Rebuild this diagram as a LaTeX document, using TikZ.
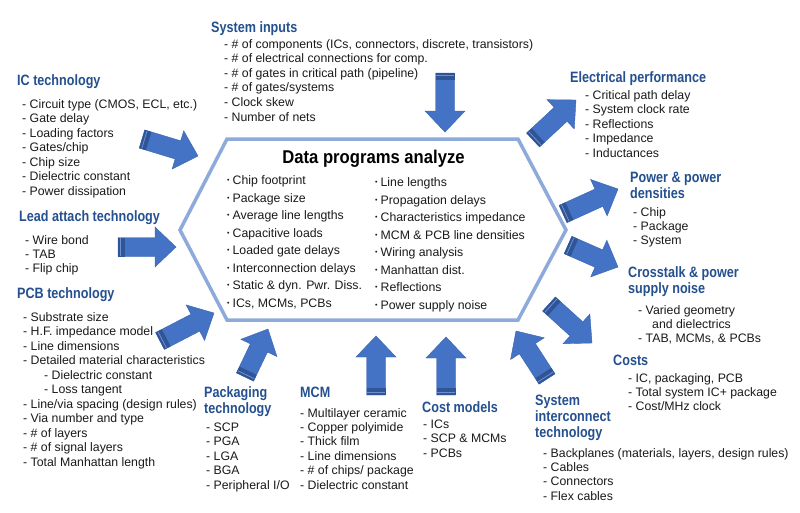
\documentclass[tikz,border=0pt]{standalone}
\usepackage{fontspec}
\setmainfont{Liberation Sans}
\newfontfamily\ttlfam[FakeStretch=0.84]{Liberation Sans}
\newfontfamily\hexfam[FakeStretch=0.9]{Liberation Sans}
\usetikzlibrary{calc}
\definecolor{ttlblue}{HTML}{24508F}
\definecolor{arrfill}{HTML}{4472C4}
\definecolor{arrdark}{HTML}{2F5597}
\definecolor{arredge}{HTML}{3A64B0}
\definecolor{arrlight}{HTML}{6E90D0}
\definecolor{hexblue}{HTML}{8EAADB}
\definecolor{bodytext}{HTML}{1A1A1A}
\newcommand\mybody{\fontsize{12.3}{14.5}\selectfont}
\newcommand\mytitle{\ttlfam\bfseries\fontsize{15}{16}\selectfont}
\newcommand\myhex{\hexfam\bfseries\fontsize{18.5}{20}\selectfont}
\newcommand\bul{\raisebox{0.25ex}{\fontsize{7}{7}\selectfont\textbullet}\hspace{3pt}}
% block list: #1 name prefix, #2 x, #3 first baseline, #4 step, #5 items
\newcommand\itemblock[5]{%
  \foreach \txt [count=\i] in {#5} {
    \node[body] (#1\i) at (#2, {#3+(\i-1)*#4}) {\txt};
  }%
}
% block arrow: #1 name, #2 tail, #3 tip
\newcommand\blkarrow[3]{%
  \coordinate (#1t) at (#2);
  \coordinate (#1h) at (#3);
  \coordinate (#1b) at ($(#1h)!21pt!(#1t)$);
  \coordinate (#1s) at ($(#1t)!7pt!(#1h)$);
  \coordinate (#1l) at ($(#1t)!2.5pt!(#1h)$);
  \filldraw[arrbody] ($(#1t)!9.5pt!90:(#1h)$) -- ($(#1b)!9.5pt!90:(#1h)$) -- ($(#1b)!20pt!90:(#1h)$) -- (#1h) -- ($(#1b)!20pt!-90:(#1h)$) -- ($(#1b)!9.5pt!-90:(#1h)$) -- ($(#1t)!9.5pt!-90:(#1h)$) -- cycle;
  \fill[arrband] ($(#1t)!9.5pt!90:(#1h)$) -- ($(#1s)!9.5pt!90:(#1h)$) -- ($(#1s)!9.5pt!-90:(#1h)$) -- ($(#1t)!9.5pt!-90:(#1h)$) -- cycle;
  \draw[arrline] ($(#1l)!9pt!90:(#1h)$) -- ($(#1l)!9pt!-90:(#1h)$);
}
\begin{document}
\begin{tikzpicture}[x=1pt,y=-1pt,
  body/.style={anchor=base west, inner sep=0pt, font=\mybody, text=bodytext},
  ttl/.style={anchor=base west, inner sep=0pt, font=\mytitle, text=ttlblue},
  hexttl/.style={anchor=base, inner sep=0pt, font=\myhex, text=black},
  arrbody/.style={fill=arrfill, draw=arredge, line width=0.4pt, line join=miter},
  arrband/.style={fill=arrdark},
  arrline/.style={draw=arrlight, line width=0.8pt},
  hexline/.style={draw=hexblue, line width=3.5pt, line join=miter}]
\useasboundingbox (0,0) rectangle (800,512);
\fill[white] (0,0) rectangle (800,512);

% central hexagon
\coordinate (h1) at (227,139);
\coordinate (h2) at (518,139);
\coordinate (h3) at (566,230);
\coordinate (h4) at (518,320);
\coordinate (h5) at (227,320);
\coordinate (h6) at (180,230);
\draw[hexline] (h1) -- (h2) -- (h3) -- (h4) -- (h5) -- (h6) -- cycle;
\node[hexttl] (hextitle) at (373.5,163) {Data programs analyze};
\itemblock{hl}{227}{184.5}{17.5}{{\bul Chip footprint},{\bul Package size},{\bul Average line lengths},{\bul Capacitive loads},{\bul Loaded gate delays},{\bul Interconnection delays},{\bul Static \& dyn. Pwr. Diss.},{\bul ICs, MCMs, PCBs}}
\itemblock{hr}{375}{186.5}{17.5}{{\bul Line lengths},{\bul Propagation delays},{\bul Characteristics impedance},{\bul MCM \& PCB line densities},{\bul Wiring analysis},{\bul Manhattan dist.},{\bul Reflections},{\bul Power supply noise}}

% System inputs
\node[ttl] (sit) at (211,32.5) {System inputs};
\itemblock{si}{224}{48}{14.6}{{- \# of components (ICs, connectors, discrete, transistors)},{- \# of electrical connections for comp.},{- \# of gates in critical path (pipeline)},{- \# of gates/systems},{- Clock skew},{- Number of nets}}

% IC technology
\node[ttl] (ict) at (17,85.5) {IC technology};
\itemblock{ic}{22}{108}{14.5}{{- Circuit type (CMOS, ECL, etc.)},{- Gate delay},{- Loading factors},{- Gates/chip},{- Chip size},{- Dielectric constant},{- Power dissipation}}

% Lead attach technology
\node[ttl] (lat) at (19,221.5) {Lead attach technology};
\itemblock{la}{25}{244}{14}{{- Wire bond},{- TAB},{- Flip chip}}

% PCB technology
\node[ttl] (pcbt) at (17,298.5) {PCB technology};
\itemblock{pcb}{23}{321}{14.5}{{- Substrate size},{- H.F. impedance model},{- Line dimensions},{- Detailed material characteristics},{\hspace*{21pt}- Dielectric constant},{\hspace*{21pt}- Loss tangent},{- Line/via spacing (design rules)},{- Via number and type},{- \# of layers},{- \# of signal layers},{- Total Manhattan length}}

% Packaging technology
\node[ttl] (pkt1) at (204,397.5) {Packaging};
\node[ttl] (pkt2) at (204,413.5) {technology};
\itemblock{pk}{206}{431}{14.6}{{- SCP},{- PGA},{- LGA},{- BGA},{- Peripheral I/O}}

% MCM
\node[ttl] (mcmt) at (300,397.5) {MCM};
\itemblock{mcm}{300}{417}{14.4}{{- Multilayer ceramic},{- Copper polyimide},{- Thick film},{- Line dimensions},{- \# of chips/ package},{- Dielectric constant}}

% Cost models
\node[ttl] (cmt) at (422,412.5) {Cost models};
\itemblock{cm}{423}{428}{14.5}{{- ICs},{- SCP \& MCMs},{- PCBs}}

% System interconnect technology
\node[ttl] (sit1) at (535,405.5) {System};
\node[ttl] (sit2) at (535,421.5) {interconnect};
\node[ttl] (sit3) at (535,437.5) {technology};
\itemblock{sic}{543}{457}{14.4}{{- Backplanes (materials, layers, design rules)},{- Cables},{- Connectors},{- Flex cables}}

% Costs
\node[ttl] (cot) at (613,365.5) {Costs};
\itemblock{co}{628}{382}{14.2}{{- IC, packaging, PCB},{- Total system IC+ package},{- Cost/MHz clock}}

% Crosstalk
\node[ttl] (ct1) at (628,277.5) {Crosstalk \& power};
\node[ttl] (ct2) at (628,293.5) {supply noise};
\node[body] (ct3) at (638,314) {- Varied geometry};
\node[body] (ct4) at (652,328) {and dielectrics};
\node[body] (ct5) at (638,342) {- TAB, MCMs, \& PCBs};

% Power
\node[ttl] (pw1) at (630,182.5) {Power \& power};
\node[ttl] (pw2) at (630,198.5) {densities};
\itemblock{pw}{633}{216}{14}{{- Chip},{- Package},{- System}}

% Electrical performance
\node[ttl] (elt) at (570,82.5) {Electrical performance};
\itemblock{el}{585}{99}{14.5}{{- Critical path delay},{- System clock rate},{- Reflections},{- Impedance},{- Inductances}}

% arrows
\blkarrow{aic}{142,139}{198,156}
\blkarrow{asi}{445,73}{445,132}
\blkarrow{ael}{533,140}{576,100}
\blkarrow{apw}{563,214}{618,189}
\blkarrow{act}{568,245}{618,267}
\blkarrow{aco}{549,304}{592,343}
\blkarrow{asc}{547,379}{516,331}
\blkarrow{acm}{446,395}{446,337}
\blkarrow{amc}{376,395}{376,336}
\blkarrow{apk}{245,377}{268,329}
\blkarrow{apc}{160,341}{214,313}
\blkarrow{ala}{118,247}{176,247}
\end{tikzpicture}
\end{document}
